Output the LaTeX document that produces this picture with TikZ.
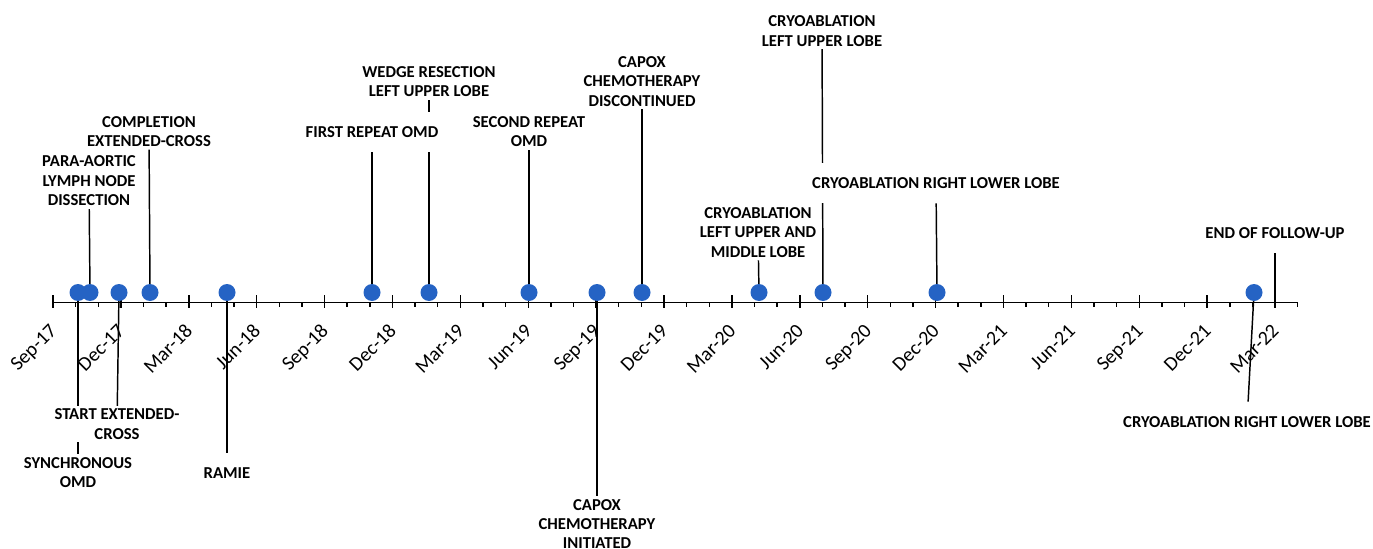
\documentclass[tikz,border=0pt]{standalone}
\usepackage{fontspec}
\setmainfont{Carlito}
\usepackage{xcolor}
\usepackage{tikz}
\usetikzlibrary{backgrounds}
\definecolor{dotblue}{RGB}{37,99,196}

\begin{document}
\begin{tikzpicture}[x=0.75pt, y=-0.75pt,
  dot/.style={circle, fill=dotblue, inner sep=0pt, minimum size=12.75pt},
  stem/.style={line width=1.1pt},
  evlabel/.style={fill=white, align=center, inner xsep=3pt, inner ysep=2pt, font=\fontsize{12.5}{14.6}\selectfont\bfseries},
  oneline/.style={evlabel, inner ysep=11pt},
  datelabel/.style={rotate=45, anchor=base east, inner sep=0pt, font=\fontsize{15}{18}\selectfont}]
  \useasboundingbox (0,0) rectangle (1373,549);

  % Time axis, one tick per month
  \draw[stem] (53,302.5) -- (1298,302.5);
  \foreach \m in {0,...,55}
    \draw[stem] (53+22.63*\m,302.5) -- ++(0,4.5);

  % Quarter ticks and dates
  \foreach \m/\d in {0/Sep-17, 3/Dec-17, 6/Mar-18, 9/Jun-18, 12/Sep-18, 15/Dec-18, 18/Mar-19,
      21/Jun-19, 24/Sep-19, 27/Dec-19, 30/Mar-20, 33/Jun-20, 36/Sep-20, 39/Dec-20, 42/Mar-21,
      45/Jun-21, 48/Sep-21, 51/Dec-21, 54/Mar-22} {
    \draw[stem] (53+22.63*\m,295) -- (53+22.63*\m,308);
    \node[datelabel] at (58+22.63*\m,332) {\d};
  }

  % Events on the axis
  \node[dot] (synomd) at (78,292.5) {};
  \node[dot] (paraaortic) at (90,292.5) {};
  \node[dot] (startxc) at (119,292.5) {};
  \node[dot] (complxc) at (150,292.5) {};
  \node[dot] (ramie) at (227,292.5) {};
  \node[dot] (firstomd) at (372,292.5) {};
  \node[dot] (wedge) at (429,292.5) {};
  \node[dot] (secondomd) at (529,292.5) {};
  \node[dot] (capoxon) at (597,292.5) {};
  \node[dot] (capoxoff) at (642,292.5) {};
  \node[dot] (cryolum) at (759,292.5) {};
  \node[dot] (cryolul) at (823,292.5) {};
  \node[dot] (cryorll) at (937,292.5) {};
  \node[dot] (cryorlltwo) at (1254,292.5) {};
  \coordinate (endfu) at (1275,302.5);

  % Labels above the axis
  \node[evlabel] (paraaorticlab) at (89,181) {PARA-AORTIC\\LYMPH NODE\\DISSECTION};
  \node[evlabel] (complxclab) at (149,131.5) {COMPLETION\\EXTENDED-CROSS};
  \node[oneline] (firstomdlab) at (372,132) {FIRST REPEAT OMD};
  \node[evlabel] (wedgelab) at (429,81.5) {WEDGE RESECTION\\LEFT UPPER LOBE};
  \node[evlabel] (secondomdlab) at (529,131.5) {SECOND REPEAT\\OMD};
  \node[evlabel] (capoxofflab) at (642,81.5) {CAPOX\\CHEMOTHERAPY\\DISCONTINUED};
  \node[evlabel] (cryolumlab) at (758,232.5) {CRYOABLATION\\LEFT UPPER AND\\MIDDLE LOBE};
  \node[evlabel] (cryolullab) at (822,31) {CRYOABLATION\\LEFT UPPER LOBE};
  \node[oneline] (cryorlllab) at (936,183) {CRYOABLATION RIGHT LOWER LOBE};
  \node[oneline] (endfulab) at (1275,233) {END OF FOLLOW-UP};

  % Labels below the axis
  \node[evlabel] (synomdlab) at (78,472.5) {SYNCHRONOUS\\OMD};
  \node[evlabel] (startxclab) at (117,424) {START EXTENDED-\\CROSS};
  \node[oneline] (ramielab) at (227,473) {RAMIE};
  \node[evlabel] (capoxonlab) at (597,524) {CAPOX\\CHEMOTHERAPY\\INITIATED};
  \node[oneline] (cryorlltwolab) at (1247,422) {CRYOABLATION RIGHT LOWER LOBE};

  % Stems
  \begin{pgfonlayer}{background}
    \foreach \ev in {synomd, paraaortic, startxc, complxc, ramie, firstomd, wedge, secondomd,
        capoxon, capoxoff, cryolum, cryolul, cryorll, cryorlltwo}
      \draw[stem] (\ev.center) -- (\ev lab);
    \draw[stem] (endfu) -- (endfulab);
  \end{pgfonlayer}
\end{tikzpicture}
\end{document}
